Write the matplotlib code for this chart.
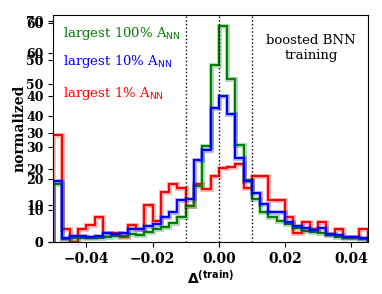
import numpy as np
import matplotlib
matplotlib.use('Agg')
import matplotlib.pyplot as plt
import matplotlib.patheffects as pe

plt.rcParams['font.family'] = ['DejaVu Serif']
plt.rcParams['mathtext.fontset'] = 'dejavusans'

# bin edges of the Delta^(train) histograms
edges = np.linspace(-0.05, 0.045, 39)

green = [18.3, 0.95, 1.2, 1.2, 1.4, 1.4, 1.7, 1.8, 1.9, 2.4,
         2.1, 3.3, 4.0, 4.9, 5.9, 7.8, 11.4, 17.9, 30.5, 56.2,
         68.7, 51.9, 30.8, 19.8, 13.5, 9.6, 7.8, 6.8, 5.7, 4.5,
         3.5, 3.3, 2.8, 2.2, 1.7, 1.4, 1.3, 1.1]
blue = [19.4, 1.3, 2.0, 2.0, 1.7, 2.0, 2.8, 2.4, 2.8, 4.0,
        4.2, 5.1, 5.7, 7.8, 9.6, 13.3, 13.7, 26.0, 29.2, 42.6,
        46.3, 40.6, 26.6, 19.4, 15.5, 12.0, 9.6, 9.6, 6.4, 5.1,
        4.3, 3.7, 4.3, 2.4, 2.2, 1.7, 1.6, 1.2]
red = [34.0, 4.1, 0.0, 4.1, 5.3, 7.9, 2.8, 2.8, 1.5, 5.3,
       4.1, 11.7, 6.8, 15.8, 18.3, 17.0, 11.4, 18.3, 16.8, 21.0,
       23.4, 23.9, 24.8, 17.0, 21.0, 21.0, 13.2, 13.2, 7.8, 2.9,
       6.5, 4.0, 6.5, 2.5, 4.0, 1.5, 1.5, 4.0]

series = [(red, 'red'), (green, 'green'), (blue, 'blue')]
labels = [('largest 100% A$_{\\mathsf{NN}}$', 'green', 0.92),
          ('largest 10% A$_{\\mathsf{NN}}$', 'blue', 0.793),
          ('largest 1% A$_{\\mathsf{NN}}$', 'red', 0.656)]

fig = plt.figure(figsize=(3.82, 2.94), dpi=100)
rect = [0.1396, 0.1769, 0.8230, 0.7721]

# second overlaid axis (other normalisation), only its ticks show
ax2 = fig.add_axes(rect, frameon=False)
ax2.set_ylim(0, 62.2)
ax2.set_yticks(np.arange(0, 61, 10))
ax2.set_xticks([])
ax2.tick_params(axis='y', labelsize=9)
for t in ax2.get_yticklabels():
    t.set_fontweight('bold')

ax = fig.add_axes(rect)
ax.patch.set_alpha(0)
for vals, c in series:
    ax.stairs(vals, edges, color=c, lw=1.5,
              path_effects=[pe.Stroke(linewidth=3.5, foreground=c, alpha=0.3),
                            pe.Normal()])
for x in (-0.01, 0.0, 0.01):
    ax.axvline(x, color='k', ls=':', lw=1)

ax.set_xlim(-0.05, 0.045)
ax.set_ylim(0, 72.06)
ax.set_yticks(np.arange(0, 71, 10))
ax.set_xticks([-0.04, -0.02, 0.0, 0.02, 0.04])
ax.tick_params(axis='y', labelsize=9)
ax.tick_params(axis='x', labelsize=10)
for t in ax.get_xticklabels() + ax.get_yticklabels():
    t.set_fontweight('bold')

ax.set_xlabel('$\\mathbf{\\Delta^{(train)}}$', fontsize=10, labelpad=2)
ax.set_ylabel('normalized', fontsize=10, fontweight='bold', labelpad=0)

for txt, c, y in labels:
    ax.text(0.03, y, txt, color=c, transform=ax.transAxes,
            fontsize=9.5, va='center')
ax.text(0.82, 0.855, 'boosted BNN\ntraining', transform=ax.transAxes,
        fontsize=9.5, ha='center', va='center')

fig.savefig('out.png', dpi=100)
